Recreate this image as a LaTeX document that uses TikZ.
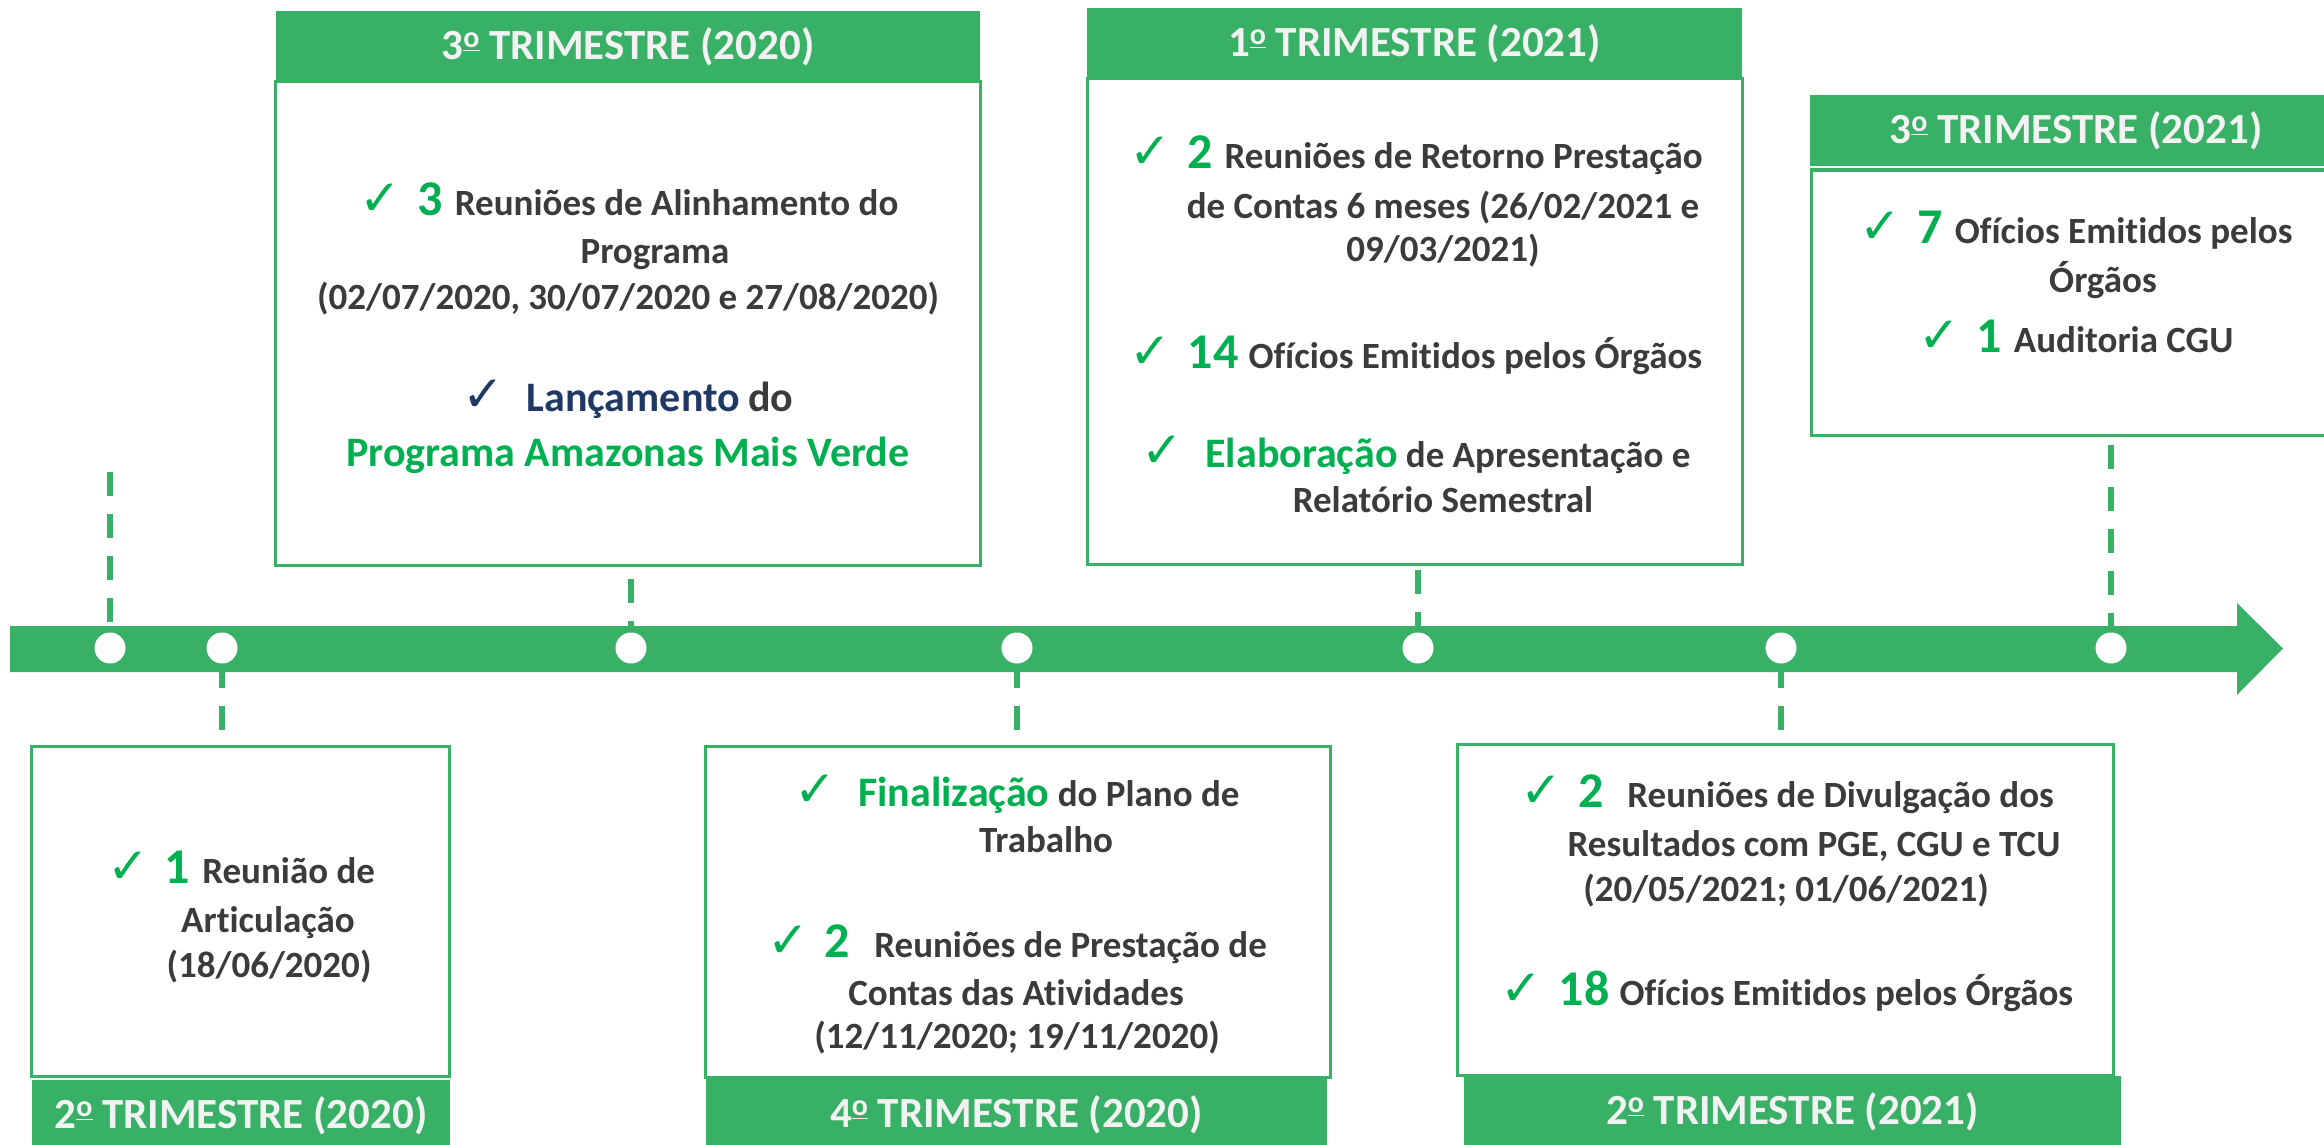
\documentclass[tikz,border=0pt]{standalone}
\usepackage{fontspec}
\setmainfont{Carlito}[Ligatures=NoCommon]
\newfontfamily\checkfont{DejaVu Sans}
\usetikzlibrary{fit,backgrounds}

\definecolor{barG}{RGB}{56,176,102}
\definecolor{txtG}{RGB}{0,176,80}
\definecolor{ink}{RGB}{59,59,59}
\definecolor{navy}{RGB}{31,56,100}
\definecolor{hdrtxt}{RGB}{242,242,242}

\newcommand{\chk}[1][txtG]{{\checkfont\fontsize{25}{22}\selectfont\color{#1}✓}}
\newcommand{\bignum}[1]{{\fontsize{25}{22}\selectfont\color{txtG}#1}}
\newcommand{\hl}[2]{{\fontsize{21}{22}\selectfont\color{#1}#2}}
\newcommand{\ordm}{\raisebox{0.58ex}{\fontsize{15}{15}\selectfont\underline{o}}}

\begin{document}
\begin{tikzpicture}[x=0.5pt,y=0.5pt,yscale=-1,xscale=1,
  box/.style={draw=barG, line width=1.5pt, fill=white, inner sep=0pt},
  hdr/.style={fill=barG, inner sep=0pt},
  hdrtext/.style={inner sep=0pt, text=hdrtxt, font=\bfseries\fontsize{21.5}{26}\selectfont},
  tl/.style={anchor=base, inner sep=0pt, text=ink, font=\bfseries\fontsize{18.5}{22}\selectfont},
  dot/.style={circle, fill=white, minimum size=15.5pt, inner sep=0pt},
  conn/.style={draw=barG, line width=3pt, dash pattern=on 12pt off 9pt}]

\useasboundingbox (0,0) rectangle (2324,1145);
\clip (0,0) rectangle (2324,1145);

% timeline
\fill[barG] (10,626) -- (2237,626) -- (2237,603) -- (2283,648.5) -- (2237,695) -- (2237,672) -- (10,672) -- cycle;

\foreach \x/\n in {110/t1, 222/t2, 631/t3, 1017/t4, 1418/t5, 1781/t6, 2111/t7}
  \node[dot] (\n) at (\x,648) {};

% boxes above
\node[box, fit={(275,82) (980,565)}] (b3q20) {};
\node[hdr, fit={(276,11) (980,82)}] (h3q20) {};
\node[hdrtext] (h3q20t) at (h3q20.center) {3\ordm{} TRIMESTRE (2020)};
\node[box, fit={(1087,79) (1742,564)}] (b1q21) {};
\node[hdr, fit={(1087,8) (1742,79)}] (h1q21) {};
\node[hdrtext] (h1q21t) at (h1q21.center) {1\ordm{} TRIMESTRE (2021)};
\node[box, fit={(1811,170) (2342,435)}] (b3q21) {};
\node[hdr, fit={(1810,95) (2342,166)}] (h3q21) {};
\node[hdrtext] (h3q21t) at (h3q21.center) {3\ordm{} TRIMESTRE (2021)};

% boxes below
\node[box, fit={(31,746) (449,1076)}] (b2q20) {};
\node[hdr, fit={(32,1080) (450,1152)}] (h2q20) {};
\node[hdrtext] (h2q20t) at (h2q20.center) {2\ordm{} TRIMESTRE (2020)};
\node[box, fit={(705,746) (1330,1077)}] (b4q20) {};
\node[hdr, fit={(706,1079) (1327,1151)}] (h4q20) {};
\node[hdrtext] (h4q20t) at (h4q20.center) {4\ordm{} TRIMESTRE (2020)};
\node[box, fit={(1457,744) (2113,1075)}] (b2q21) {};
\node[hdr, fit={(1464,1076) (2121,1148)}] (h2q21) {};
\node[hdrtext] (h2q21t) at (h2q21.center) {2\ordm{} TRIMESTRE (2021)};

\coordinate (top1) at (110,472);

\begin{pgfonlayer}{background}
\draw[conn] (top1) -- (t1);
\draw[conn] (t2) -- (t2 |- b2q20.north);
\draw[conn, shorten <=6pt] (t3 |- b3q20.south) -- (t3);
\draw[conn] (t4) -- (t4 |- b4q20.north);
\draw[conn, shorten <=2pt] (t5 |- b1q21.south) -- (t5);
\draw[conn] (t6) -- (t6 |- b2q21.north);
\draw[conn, shorten <=4pt] (t7 |- b3q21.south) -- (t7);
\end{pgfonlayer}

% 3o trimestre 2020
\node[tl] (a1) at (629,215) {\chk\hspace{8pt}\bignum{3}\hspace{6pt}Reuniões de Alinhamento do};
\node[tl] (a2) at (655,263) {Programa};
\node[tl] (a3) at (628,309) {(02/07/2020, 30/07/2020 e 27/08/2020)};
\node[tl] (a4) at (628,411) {\chk[navy]\hspace{11pt}\hl{navy}{Lançamento} \hl{ink}{do}};
\node[tl] (a5) at (628,466) {\hl{txtG}{Programa Amazonas Mais Verde}};

% 1o trimestre 2021
\node[tl] (b1) at (1416,169) {\chk\hspace{8pt}\bignum{2}\hspace{6pt}Reuniões de Retorno Prestação};
\node[tl] (b2) at (1443,218) {de Contas 6 meses (26/02/2021 e};
\node[tl] (b3) at (1443,261) {09/03/2021)};
\node[tl] (b4) at (1416,368) {\chk\hspace{8pt}\bignum{14}\hspace{5pt}Ofícios Emitidos pelos Órgãos};
\node[tl] (b5) at (1416,467) {\chk\hspace{11pt}\hl{txtG}{Elaboração} de Apresentação e};
\node[tl] (b6) at (1443,512) {Relatório Semestral};

% 3o trimestre 2021
\node[tl] (c1) at (2076,243) {\chk\hspace{8pt}\bignum{7}\hspace{6pt}Ofícios Emitidos pelos};
\node[tl] (c2) at (2103,292) {Órgãos};
\node[tl] (c3) at (2076,352) {\chk\hspace{8pt}\bignum{1}\hspace{6pt}Auditoria CGU};

% 2o trimestre 2020
\node[tl] (d1) at (241,883) {\chk\hspace{8pt}\bignum{1}\hspace{6pt}Reunião de};
\node[tl] (d2) at (268,932) {Articulação};
\node[tl] (d3) at (269,977) {(18/06/2020)};

% 4o trimestre 2020
\node[tl] (e1) at (1017,806) {\chk\hspace{11pt}\hl{txtG}{Finalização} do Plano de};
\node[tl] (e2) at (1046,852) {Trabalho};
\node[tl] (e3) at (1017,957) {\chk\hspace{8pt}\bignum{2}\hspace{12pt}Reuniões de Prestação de};
\node[tl] (e4) at (1016,1005) {Contas das Atividades};
\node[tl] (e5) at (1017,1048) {(12/11/2020; 19/11/2020)};

% 2o trimestre 2021
\node[tl] (f1) at (1787,807) {\chk\hspace{8pt}\bignum{2}\hspace{12pt}Reuniões de Divulgação dos};
\node[tl] (f2) at (1814,856) {Resultados com PGE, CGU e TCU};
\node[tl] (f3) at (1786,901) {(20/05/2021; 01/06/2021)};
\node[tl] (f4) at (1787,1005) {\chk\hspace{8pt}\bignum{18}\hspace{5pt}Ofícios Emitidos pelos Órgãos};

\end{tikzpicture}
\end{document}
